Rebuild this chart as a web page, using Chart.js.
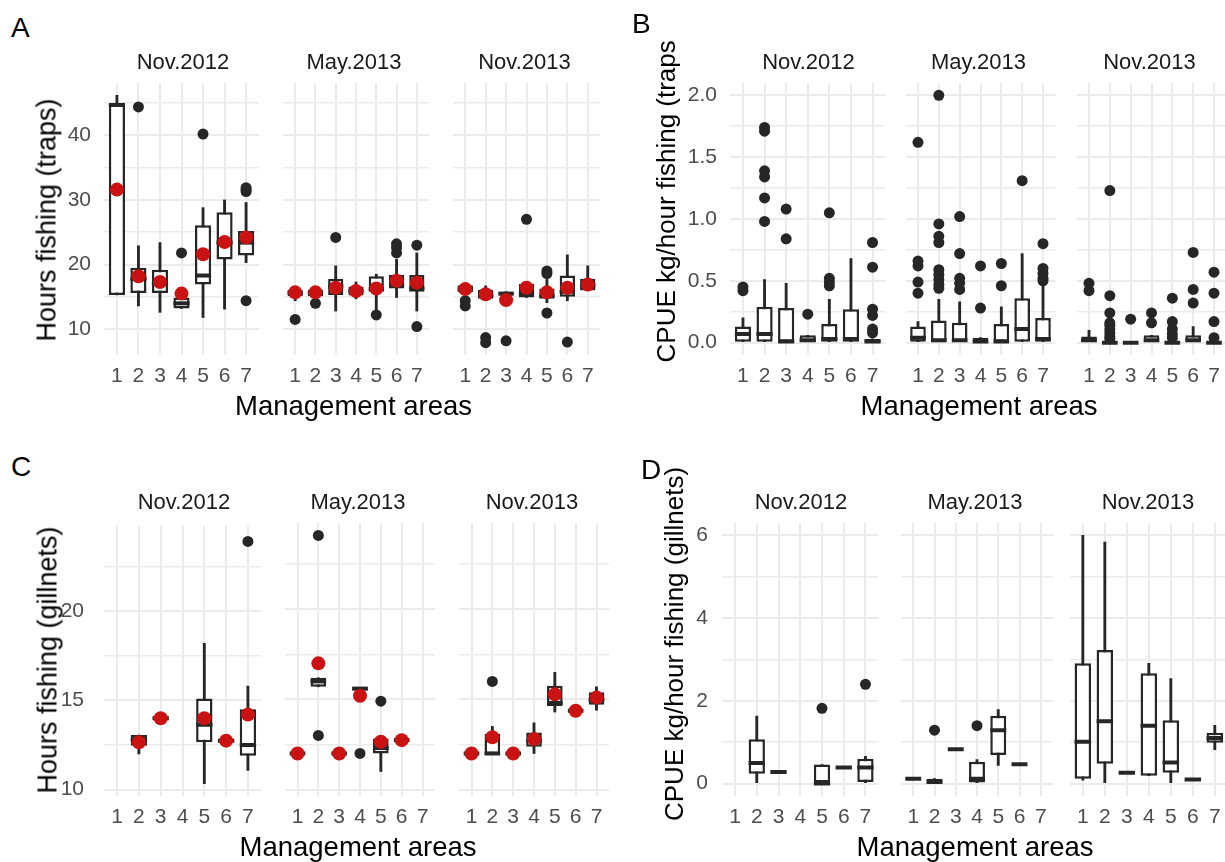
<!DOCTYPE html>
<html>
<head>
<meta charset="utf-8">
<script src="https://cdn.jsdelivr.net/npm/chart.js@4.4.1/dist/chart.umd.min.js"></script>
<style>
  body { margin: 0; background: #fff; }
  #fig { position: relative; width: 1225px; height: 862px; overflow: hidden; background: #fff;
         font-family: "Liberation Sans", Arial, Helvetica, sans-serif; }
  #fig canvas { position: absolute; }
  .t { position: absolute; white-space: nowrap; line-height: 1; color: #000; }
</style>
</head>
<body>
<div id="fig"></div>
<script>
const areas = [1, 2, 3, 4, 5, 6, 7];
const surveys = ['Nov.2012', 'May.2013', 'Nov.2013'];

// boxes: [lower whisker, q1, median, q3, upper whisker] per area, one block per survey
// A: hours fishing, traps
const trapHoursBox = [
  [[15.3, 15.3, 44.7, 44.8, 46.2], [13.6, 15.6, 17.8, 19.5, 22.9], [12.6, 15.6, 17.0, 19.2, 23.4],
   [13.2, 13.2, 14.0, 14.9, 14.9], [11.8, 16.9, 18.3, 26.1, 28.8], [13.1, 20.8, 23.4, 28.1, 30.0],
   [20.3, 21.4, 23.4, 25.2, 29.6]],
  [[14.4, 15.1, 15.6, 16.1, 16.1], [15.1, 15.1, 15.6, 16.1, 16.1], [12.8, 15.3, 16.6, 17.8, 19.8],
   [14.7, 15.2, 15.9, 16.6, 17.3], [12.8, 15.8, 16.2, 18.2, 18.5], [14.9, 16.3, 16.8, 18.4, 20.8],
   [12.8, 15.8, 16.3, 18.4, 21.8]],
  [[15.7, 15.7, 16.2, 16.8, 16.8], [14.7, 14.7, 15.2, 16.1, 16.7], [15.2, 15.2, 15.5, 15.8, 15.8],
   [14.9, 14.9, 15.5, 17.0, 17.0], [14.1, 14.7, 15.2, 16.3, 17.7], [14.4, 15.0, 15.8, 18.3, 21.5],
   [16.0, 16.0, 16.8, 17.8, 19.8]]
];
const trapHoursOut = [
  [[], [44.4], [], [21.8], [40.2], [], [14.4, 31.3, 31.6, 31.9]],
  [[11.5], [14.0], [24.2], [], [12.2], [21.8, 22.6, 23.2], [10.4, 23.0]],
  [[13.6, 14.4], [7.9, 8.7], [8.2], [27.0], [12.5, 18.6, 19.0], [8.0], []]
];
const trapHoursMean = [
  [31.6, 18.2, 17.3, 15.5, 21.6, 23.5, 24.2],
  [15.7, 15.7, 16.4, 15.9, 16.3, 17.5, 17.2],
  [16.2, 15.4, 14.5, 16.4, 15.7, 16.4, 16.9]
];
const trapHoursTicks = [10, 20, 30, 40];
const trapHoursMinor = [15, 25, 35, 45];

// B: CPUE, traps
const trapCpueBox = [
  [[0, 0, 0.07, 0.13, 0.20], [0, 0, 0.07, 0.29, 0.51], [0, 0, 0.01, 0.28, 0.48], [0, 0, 0.02, 0.06, 0.06],
   [0, 0, 0.03, 0.15, 0.35], [0, 0, 0.03, 0.27, 0.68], [0, 0, 0.01, 0.03, 0.03]],
  [[0, 0, 0.04, 0.13, 0.17], [0, 0, 0.02, 0.18, 0.35], [0, 0, 0.02, 0.16, 0.33], [0, 0, 0.01, 0.04, 0.04],
   [0, 0, 0.01, 0.15, 0.29], [0, 0, 0.11, 0.36, 0.72], [0, 0, 0.03, 0.20, 0.47]],
  [[0, 0, 0.02, 0.05, 0.10], [0, 0, 0, 0.01, 0.01], [0, 0, 0, 0.01, 0.01], [0, 0, 0.02, 0.06, 0.06],
   [0, 0, 0, 0.01, 0.01], [0, 0, 0.02, 0.06, 0.13], [0, 0, 0, 0.01, 0.01]]
];
const trapCpueOut = [
  [[0.42, 0.45], [0.98, 1.17, 1.34, 1.39, 1.71, 1.74], [0.84, 1.08], [0.23], [0.46, 0.49, 0.52, 1.05], [],
   [0.08, 0.11, 0.22, 0.27, 0.61, 0.81]],
  [[0.40, 0.49, 0.62, 0.66, 1.62], [0.44, 0.47, 0.51, 0.55, 0.59, 0.81, 0.86, 0.96, 2.0],
   [0.43, 0.48, 0.52, 0.72, 1.02], [0.28, 0.62], [0.46, 0.64], [1.31], [0.50, 0.52, 0.56, 0.60, 0.80]],
  [[0.42, 0.48], [0.03, 0.05, 0.08, 0.11, 0.14, 0.16, 0.24, 0.38, 1.23], [0.19], [0.16, 0.24],
   [0.04, 0.07, 0.11, 0.17, 0.36], [0.32, 0.43, 0.73], [0.04, 0.17, 0.40, 0.57]]
];
const trapCpueTicks = [0, 0.5, 1.0, 1.5, 2.0];
const trapCpueMinor = [0.25, 0.75, 1.25, 1.75];

// C: hours fishing, gillnets
const gillHoursBox = [
  [null, [12.0, 12.46, 12.8, 13.06, 13.06], [14.0, 14.0, 14.0, 14.0, 14.0], null,
   [10.33, 12.65, 13.63, 15.1, 18.2], [12.74, 12.74, 12.74, 12.74, 12.74], [11.07, 11.9, 12.5, 14.5, 15.8]],
  [[12.0, 12.0, 12.0, 12.0, 12.0], [15.7, 15.7, 16.0, 16.2, 16.2], [12.0, 12.0, 12.0, 12.0, 12.0],
   [15.5, 15.5, 15.6, 15.67, 15.67], [11.0, 12.0, 12.3, 12.83, 12.83], [12.74, 12.74, 12.74, 12.74, 12.74], null],
  [[12.0, 12.0, 12.0, 12.0, 12.0], [11.96, 11.96, 12.0, 13.1, 13.5], [12.0, 12.0, 12.0, 12.0, 12.0],
   [12.0, 12.37, 12.7, 13.17, 13.7], [14.3, 14.63, 14.8, 15.76, 16.5], [14.37, 14.37, 14.37, 14.37, 14.37],
   [14.4, 14.7, 15.0, 15.4, 15.7]]
];
const gillHoursOut = [
  [[], [], [], [], [], [], [23.9]],
  [[], [13.0, 24.1], [], [12.0], [14.9], [], []],
  [[], [16.0], [], [], [], [], []]
];
const gillHoursMean = [
  [null, 12.65, 14.0, null, 14.0, 12.74, 14.2],
  [12.0, 17.0, 12.0, 15.2, 12.65, 12.74, null],
  [12.0, 12.9, 12.0, 12.8, 15.28, 14.37, 15.1]
];
const gillHoursTicks = [10, 15, 20];
const gillHoursMinor = [12.5, 17.5, 22.5];

// D: CPUE, gillnets
const gillCpueBox = [
  [null, [0, 0.24, 0.5, 1.07, 1.63], [0.28, 0.28, 0.28, 0.28, 0.28], null,
   [0, 0, 0, 0.46, 0.46], [0.39, 0.39, 0.39, 0.39, 0.39], [0, 0.04, 0.39, 0.6, 0.66]],
  [[0.12, 0.12, 0.12, 0.12, 0.12], [0, 0, 0.04, 0.12, 0.12], [0.83, 0.83, 0.83, 0.83, 0.83],
   [0, 0, 0.12, 0.53, 0.58], [0.44, 0.69, 1.29, 1.64, 1.79], [0.47, 0.47, 0.47, 0.47, 0.47], null],
  [[0.08, 0.12, 1.01, 2.91, 6.0], [0.02, 0.48, 1.51, 3.23, 5.84], [0.26, 0.26, 0.26, 0.26, 0.26],
   [0.19, 0.19, 1.4, 2.67, 2.91], [0.02, 0.26, 0.51, 1.53, 2.54], [0.1, 0.1, 0.1, 0.1, 0.1],
   [0.82, 0.99, 1.1, 1.23, 1.41]]
];
const gillCpueOut = [
  [[], [], [], [], [1.82], [], [2.4]],
  [[], [1.29], [], [1.4], [], [], []],
  [[], [], [], [], [], [], []]
];
const gillCpueTicks = [0, 2, 4, 6];
const gillCpueMinor = [1, 3, 5];

// ---------- layout ----------
const FONT = '"Liberation Sans", Arial, Helvetica, sans-serif';
const GRID = '#ebebeb';
const INK = '#262626';
const RED = '#cb1212';

const panels = [
  { letter: 'A', box: trapHoursBox, out: trapHoursOut, mean: trapHoursMean, major: trapHoursTicks, minor: trapHoursMinor,
    yMin: 6.0, yMax: 48.1, fmt: v => String(v), top: 83, bottom: 355, labPad: 13,
    facets: [[104, 262], [276, 432], [446, 603]],
    yTitle: 'Hours fishing (traps)', yTitleAt: [47, 219.5], ySize: 27, letterAt: [11, 28] },
  { letter: 'B', box: trapCpueBox, out: trapCpueOut, mean: null, major: trapCpueTicks, minor: trapCpueMinor,
    yMin: -0.1, yMax: 2.1, fmt: v => v.toFixed(1), top: 83, bottom: 355, labPad: 13,
    facets: [[730, 887], [900, 1057], [1071, 1228]],
    yTitle: 'CPUE kg/hour fishing (traps)', yTitleAt: [665.5, 197], ySize: 26, clipTop: 41, letterAt: [632, 24] },
  { letter: 'C', box: gillHoursBox, out: gillHoursOut, mean: gillHoursMean, major: gillHoursTicks, minor: gillHoursMinor,
    yMin: 9.64, yMax: 24.79, fmt: v => String(v), top: 523, bottom: 796, labPad: 20,
    facets: [[104, 264], [278, 438], [452, 612]],
    yTitle: 'Hours fishing (gillnets)', yTitleAt: [47.5, 659.5], ySize: 27, letterAt: [11, 467] },
  { letter: 'D', box: gillCpueBox, out: gillCpueOut, mean: null, major: gillCpueTicks, minor: gillCpueMinor,
    yMin: -0.3, yMax: 6.3, fmt: v => String(v), top: 523, bottom: 796, labPad: 14,
    facets: [[722, 880], [895, 1055], [1068, 1228]],
    yTitle: 'CPUE kg/hour fishing (gillnets)', yTitleAt: [673.5, 644], ySize: 26, letterAt: [641, 470] }
];

const fig = document.getElementById('fig');

function addText(str, x, y, css) {
  const d = document.createElement('div');
  d.className = 't';
  d.textContent = str;
  d.style.left = x + 'px';
  d.style.top = y + 'px';
  Object.assign(d.style, css || {});
  fig.appendChild(d);
  return d;
}

const isIn = (arr, v) => arr.some(m => Math.abs(m - v) < 1e-9);
const halfBox = chart => {
  const sx = chart.scales.x;
  return Math.abs(sx.getPixelForValue(1) - sx.getPixelForValue(0)) * 0.375;
};

function drawFacet(p, s) {
  const first = s === 0;
  const yW = first ? 60 : 0, topPad = 30, xH = 45, rPad = 4;
  const [L, R] = p.facets[s];
  const canvas = document.createElement('canvas');
  canvas.width = R - L + yW + rPad;
  canvas.height = p.bottom - p.top + topPad + xH;
  canvas.style.left = (L - yW) + 'px';
  canvas.style.top = (p.top - topPad) + 'px';
  fig.appendChild(canvas);

  const box = p.box[s];
  const whiskers = [], boxes = [], medians = [], outliers = [], means = [];
  areas.forEach((a, i) => {
    const b = box[i];
    if (b) {
      whiskers.push({ x: a, y: [b[0], b[4]] });
      boxes.push({ x: a, y: [b[1], b[3]] });
      medians.push({ x: a, y: b[2] });
    }
    p.out[s][i].forEach(v => outliers.push({ x: a, y: v }));
    if (p.mean && p.mean[s][i] != null) means.push({ x: a, y: p.mean[s][i] });
  });

  const datasets = [
    { type: 'bar', data: whiskers, grouped: false, barThickness: 2.2, backgroundColor: INK, borderWidth: 0, order: 5 },
    { type: 'bar', data: boxes, grouped: false, barPercentage: 0.75, categoryPercentage: 1,
      backgroundColor: '#ffffff', borderColor: INK, borderWidth: 2.5, borderSkipped: false, inflateAmount: 0, order: 4 },
    { type: 'line', data: medians, showLine: false, pointStyle: 'line', pointBorderColor: INK,
      pointBorderWidth: 4, pointRadius: c => halfBox(c.chart), order: 3 },
    { type: 'line', data: outliers, showLine: false, pointStyle: 'circle', pointRadius: 5.5,
      pointBackgroundColor: INK, pointBorderWidth: 0, order: 2 }
  ];
  if (p.mean) {
    datasets.push({ type: 'line', data: means, showLine: false, pointStyle: 'circle', pointRadius: 7,
      pointBackgroundColor: RED, pointBorderWidth: 0, order: 1 });
  }

  const yTicks = [...p.major, ...p.minor].filter(v => v >= p.yMin && v <= p.yMax).sort((a, b) => a - b);

  new Chart(canvas, {
    type: 'bar',
    data: { datasets },
    options: {
      responsive: false,
      animation: false,
      events: [],
      devicePixelRatio: 1,
      layout: { padding: { top: topPad, right: rPad, left: 0, bottom: 0 } },
      plugins: { legend: { display: false }, tooltip: { enabled: false }, title: { display: false } },
      scales: {
        x: {
          type: 'linear', min: 0.4, max: 7.6, offset: false,
          afterBuildTicks: ax => { ax.ticks = areas.map(v => ({ value: v })); },
          afterFit: ax => { ax.height = xH; },
          grid: { color: GRID, lineWidth: 2, drawTicks: false, offset: false },
          border: { display: false },
          ticks: { color: '#4d4d4d', font: { family: FONT, size: 21 }, padding: 9,
                   maxRotation: 0, autoSkip: false, callback: v => String(v) }
        },
        y: {
          type: 'linear', min: p.yMin, max: p.yMax, beginAtZero: false,
          afterBuildTicks: ax => { ax.ticks = yTicks.map(v => ({ value: v })); },
          afterFit: ax => { ax.width = yW; },
          grid: { color: GRID, lineWidth: c => (isIn(p.major, c.tick.value) ? 2 : 1.6), drawTicks: false },
          border: { display: false },
          ticks: { display: first, color: '#4d4d4d', font: { family: FONT, size: 21 }, padding: p.labPad,
                   autoSkip: false, callback: v => (isIn(p.major, v) ? p.fmt(v) : '') }
        }
      }
    }
  });

  // facet strip label
  addText(surveys[s], (L + R) / 2, p.top - 21, {
    transform: 'translate(-50%,-50%)', fontSize: '22px', color: '#1a1a1a'
  });
}

panels.forEach(p => {
  p.facets.forEach((f, s) => drawFacet(p, s));

  // panel letter
  addText(p.letter, p.letterAt[0], p.letterAt[1], { transform: 'translateY(-50%)', fontSize: '28px' });

  // x axis title
  const cx = (p.facets[0][0] + p.facets[2][1]) / 2;
  addText('Management areas', cx, p.bottom + 51, { transform: 'translate(-50%,-50%)', fontSize: '27.5px' });

  // y axis title
  const [tx, ty] = p.yTitleAt;
  const tcss = 'font-size:' + p.ySize + 'px;transform:translate(-50%,-50%) rotate(-90deg);';
  if (p.clipTop != null) {
    const clip = document.createElement('div');
    clip.style.cssText = 'position:absolute;overflow:hidden;left:' + (tx - 30) + 'px;top:' + p.clipTop +
      'px;width:60px;height:' + (p.bottom + 60 - p.clipTop) + 'px;';
    fig.appendChild(clip);
    const d = document.createElement('div');
    d.className = 't';
    d.textContent = p.yTitle;
    d.style.cssText += 'left:30px;top:' + (ty - p.clipTop) + 'px;' + tcss;
    clip.appendChild(d);
  } else {
    const d = addText(p.yTitle, tx, ty);
    d.style.cssText += tcss;
  }
});
</script>
</body>
</html>
